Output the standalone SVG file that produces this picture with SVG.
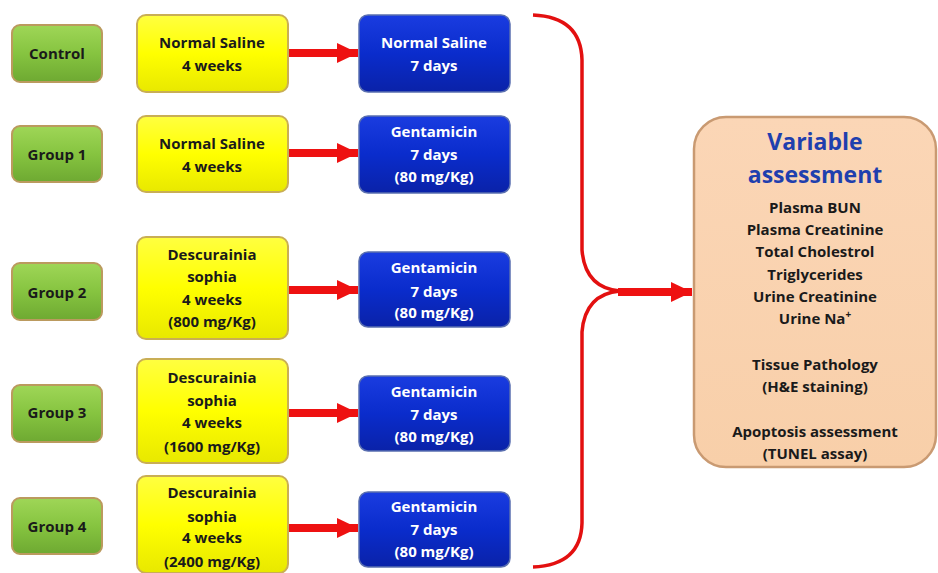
<svg xmlns="http://www.w3.org/2000/svg" width="938" height="573" viewBox="0 0 938 573">
<defs>
<linearGradient id="gGreen" x1="0" y1="0" x2="0" y2="1"><stop offset="0" stop-color="#9fd657"/><stop offset="0.5" stop-color="#86c440"/><stop offset="1" stop-color="#6ea932"/></linearGradient>
<linearGradient id="gYellow" x1="0" y1="0" x2="0" y2="1"><stop offset="0" stop-color="#ffff40"/><stop offset="0.5" stop-color="#ffff00"/><stop offset="1" stop-color="#e8e800"/></linearGradient>
<linearGradient id="gBlue" x1="0" y1="0" x2="0" y2="1"><stop offset="0" stop-color="#1a3ce0"/><stop offset="0.5" stop-color="#0a2ccc"/><stop offset="1" stop-color="#0a22a8"/></linearGradient>
<linearGradient id="gPeach" x1="0" y1="0" x2="0" y2="1"><stop offset="0" stop-color="#fbd6b6"/><stop offset="1" stop-color="#f8cfa9"/></linearGradient>
<marker id="ah" markerWidth="22" markerHeight="22" refX="21" refY="10" orient="auto" markerUnits="userSpaceOnUse"><path d="M0,0 L21,10 L0,20 Z" fill="#ee1111"/></marker>
</defs>
<style>
.t{font-family:"Open Sans",Lato,"Liberation Sans",sans-serif;font-weight:bold;font-size:15px;text-anchor:middle}
.dk{fill:#1a1a1a}
.wh{fill:#ffffff}
.green{fill:url(#gGreen);stroke:#bb9a5e;stroke-width:2}
.yellow{fill:url(#gYellow);stroke:#c9ae55;stroke-width:2}
.blue{fill:url(#gBlue);stroke:#5a6fb0;stroke-width:1.5}
.peach{fill:url(#gPeach);stroke:#c99a72;stroke-width:2.5}
.title{font-family:"Open Sans",Lato,"Liberation Sans",sans-serif;font-weight:bold;font-size:23px;text-anchor:middle;fill:#1f3fae}
.arr{stroke:#ee1111;stroke-width:8;fill:none}
.brace{stroke:#e31010;stroke-width:3.5;fill:none}
</style>

<g id="connectors">
<line class="arr" x1="289" y1="53" x2="358" y2="53" marker-end="url(#ah)"/>
<line class="arr" x1="289" y1="153" x2="358" y2="153" marker-end="url(#ah)"/>
<line class="arr" x1="289" y1="290" x2="358" y2="290" marker-end="url(#ah)"/>
<line class="arr" x1="289" y1="413" x2="358" y2="413" marker-end="url(#ah)"/>
<line class="arr" x1="289" y1="528" x2="358" y2="528" marker-end="url(#ah)"/>
<path class="brace" d="M533,15 Q581,17 582,60 L582,250 Q585,288 620,291 Q585,294 582,332 L582,523 Q581,565 533,567"/>
<line class="arr" x1="618" y1="292" x2="692" y2="292" marker-end="url(#ah)"/>
</g>

<g id="control">
<rect class="green" x="12" y="25" width="90" height="57" rx="8"/>
<text class="t dk" x="57" y="59">Control</text>
</g>
<g id="group1">
<rect class="green" x="12" y="126" width="90" height="56" rx="8"/>
<text class="t dk" x="57" y="160">Group 1</text>
</g>
<g id="group2">
<rect class="green" x="12" y="263" width="90" height="57" rx="8"/>
<text class="t dk" x="57" y="298">Group 2</text>
</g>
<g id="group3">
<rect class="green" x="12" y="385" width="90" height="57" rx="8"/>
<text class="t dk" x="57" y="418">Group 3</text>
</g>
<g id="group4">
<rect class="green" x="12" y="498" width="90" height="56" rx="8"/>
<text class="t dk" x="57" y="532">Group 4</text>
</g>

<g id="pre-control">
<rect class="yellow" x="137" y="15" width="151" height="77" rx="9"/>
<text class="t dk" x="212" y="48">Normal Saline</text>
<text class="t dk" x="212" y="71">4 weeks</text>
</g>
<g id="pre-group1">
<rect class="yellow" x="137" y="116" width="151" height="76" rx="9"/>
<text class="t dk" x="212" y="149">Normal Saline</text>
<text class="t dk" x="212" y="172">4 weeks</text>
</g>
<g id="pre-group2">
<rect class="yellow" x="137" y="237" width="151" height="102" rx="9"/>
<text class="t dk" x="212" y="260">Descurainia</text>
<text class="t dk" x="212" y="282">sophia</text>
<text class="t dk" x="212" y="305">4 weeks</text>
<text class="t dk" x="212" y="327">(800 mg/Kg)</text>
</g>
<g id="pre-group3">
<rect class="yellow" x="137" y="359" width="151" height="104" rx="9"/>
<text class="t dk" x="212" y="383">Descurainia</text>
<text class="t dk" x="212" y="406">sophia</text>
<text class="t dk" x="212" y="428">4 weeks</text>
<text class="t dk" x="212" y="452">(1600 mg/Kg)</text>
</g>
<g id="pre-group4">
<rect class="yellow" x="137" y="476" width="151" height="97" rx="9"/>
<text class="t dk" x="212" y="498">Descurainia</text>
<text class="t dk" x="212" y="522">sophia</text>
<text class="t dk" x="212" y="543">4 weeks</text>
<text class="t dk" x="212" y="567">(2400 mg/Kg)</text>
</g>

<g id="post-control">
<rect class="blue" x="359" y="15" width="151" height="77" rx="9"/>
<text class="t wh" x="434" y="48">Normal Saline</text>
<text class="t wh" x="434" y="71">7 days</text>
</g>
<g id="post-group1">
<rect class="blue" x="359" y="116" width="151" height="77" rx="9"/>
<text class="t wh" x="434" y="137">Gentamicin</text>
<text class="t wh" x="434" y="160">7 days</text>
<text class="t wh" x="434" y="182">(80 mg/Kg)</text>
</g>
<g id="post-group2">
<rect class="blue" x="359" y="252" width="151" height="75" rx="9"/>
<text class="t wh" x="434" y="273">Gentamicin</text>
<text class="t wh" x="434" y="297">7 days</text>
<text class="t wh" x="434" y="318">(80 mg/Kg)</text>
</g>
<g id="post-group3">
<rect class="blue" x="359" y="376" width="151" height="75" rx="9"/>
<text class="t wh" x="434" y="397">Gentamicin</text>
<text class="t wh" x="434" y="420">7 days</text>
<text class="t wh" x="434" y="442">(80 mg/Kg)</text>
</g>
<g id="post-group4">
<rect class="blue" x="359" y="492" width="151" height="75" rx="9"/>
<text class="t wh" x="434" y="512">Gentamicin</text>
<text class="t wh" x="434" y="535">7 days</text>
<text class="t wh" x="434" y="557">(80 mg/Kg)</text>
</g>

<g id="assessment">
<rect class="peach" x="694" y="117" width="242" height="350" rx="32"/>
<text class="title" x="815" y="150">Variable</text>
<text class="title" x="815" y="183">assessment</text>
<text class="t dk" x="815" y="213">Plasma BUN</text>
<text class="t dk" x="815" y="235">Plasma Creatinine</text>
<text class="t dk" x="815" y="257">Total Cholestrol</text>
<text class="t dk" x="815" y="280">Triglycerides</text>
<text class="t dk" x="815" y="302">Urine Creatinine</text>
<text class="t dk" x="815" y="324">Urine Na<tspan font-size="10px" dy="-6">+</tspan></text>
<text class="t dk" x="815" y="370">Tissue Pathology</text>
<text class="t dk" x="815" y="392">(H&amp;E staining)</text>
<text class="t dk" x="815" y="437">Apoptosis assessment</text>
<text class="t dk" x="815" y="459">(TUNEL assay)</text>
</g>
</svg>
